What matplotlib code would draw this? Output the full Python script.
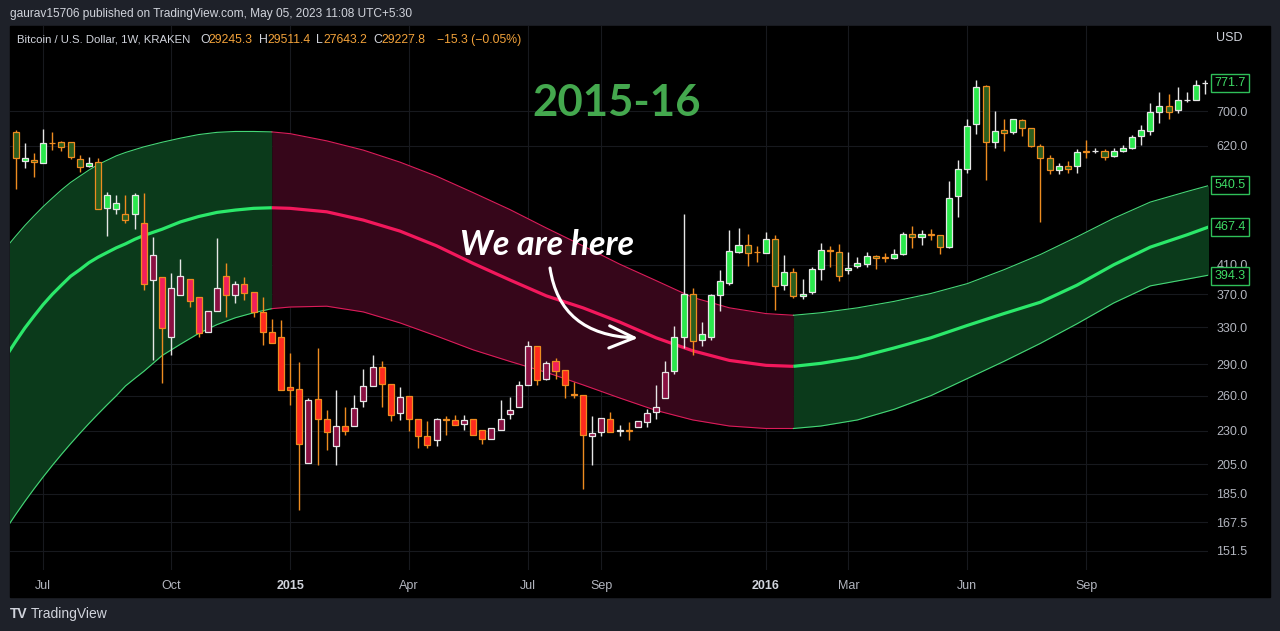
import matplotlib
matplotlib.use("Agg")
import matplotlib.pyplot as plt
import numpy as np
from matplotlib.patches import Rectangle, FancyArrowPatch
from matplotlib.path import Path
from matplotlib.ticker import FixedLocator, NullLocator, FuncFormatter
from matplotlib.transforms import blended_transform_factory

plt.rcParams['font.family'] = ['Liberation Sans', 'DejaVu Sans']

W, H = 1280, 631

# weekly BTC candles, bar 0 = first visible week (Jun 2014)
opens = [651, 588, 590, 585, 627, 628, 628, 592, 578, 587,
         499, 498, 489, 489, 474, 389, 393, 319, 369, 390,
         367, 325, 349, 394, 369, 384, 373, 348, 324, 319,
         268, 266, 206, 257, 240, 218, 234, 234, 255, 269,
         287, 271, 245, 260, 240, 226, 223, 240, 239, 236,
         240, 231, 224, 231, 244, 250, 270, 309, 276, 293,
         284, 262, 261, 226, 229, 240, 230, 231, 233, 237,
         246, 258, 283, 319, 370, 316, 319, 369, 385, 429,
         440, 429, 427, 448, 382, 400, 368, 373, 404, 431,
         429, 402, 409, 411, 423, 421, 420, 425, 457, 452,
         456, 455, 436, 520, 572, 668, 763, 628, 655, 651,
         678, 659, 620, 594, 570, 579, 578, 609, 609, 610,
         599, 610, 615, 642, 654, 697, 712, 702, 727, 727,
         771]
highs = [655, 626, 604, 657, 651, 631, 629, 601, 597, 594,
         529, 523, 523, 527, 527, 452, 393, 399, 418, 390,
         367, 349, 450, 413, 388, 393, 373, 367, 340, 338,
         302, 292, 258, 307, 247, 265, 250, 261, 285, 300,
         293, 271, 268, 260, 240, 238, 241, 242, 243, 243,
         240, 231, 232, 256, 259, 274, 314, 309, 293, 296,
         284, 273, 261, 242, 241, 246, 235, 237, 238, 248,
         270, 293, 331, 489, 378, 336, 371, 403, 463, 466,
         456, 437, 459, 455, 424, 405, 390, 407, 443, 437,
         441, 429, 421, 429, 424, 427, 433, 460, 469, 462,
         464, 455, 549, 590, 680, 780, 766, 701, 682, 682,
         682, 661, 624, 601, 585, 589, 613, 633, 616, 613,
         615, 622, 644, 667, 721, 748, 744, 760, 748, 780,
         780]
lows = [534, 574, 557, 585, 611, 610, 592, 566, 577, 498,
        454, 490, 475, 464, 376, 294, 272, 300, 369, 354,
        319, 325, 349, 342, 359, 363, 342, 310, 312, 265,
        252, 175, 206, 204, 215, 204, 227, 234, 250, 269,
        250, 238, 239, 230, 217, 217, 218, 227, 235, 231,
        227, 220, 224, 231, 240, 250, 270, 270, 275, 276,
        258, 258, 188, 204, 226, 229, 226, 223, 233, 233,
        240, 258, 280, 307, 300, 309, 316, 349, 382, 427,
        408, 414, 427, 350, 376, 365, 364, 371, 389, 407,
        387, 397, 405, 407, 404, 414, 418, 424, 434, 439,
        447, 426, 434, 485, 564, 646, 551, 615, 610, 646,
        642, 618, 476, 562, 562, 564, 565, 594, 604, 590,
        596, 607, 613, 622, 644, 671, 682, 696, 723, 727,
        744]
closes = [594, 594, 587, 627, 626, 617, 597, 577, 584, 498,
          523, 508, 479, 523, 384, 424, 329, 378, 394, 362,
          323, 349, 378, 369, 384, 372, 348, 324, 312, 265,
          265, 220, 256, 240, 229, 234, 230, 249, 269, 287,
          271, 243, 259, 240, 226, 219, 240, 239, 235, 239,
          227, 224, 232, 240, 247, 270, 309, 275, 291, 283,
          270, 261, 227, 228, 241, 229, 231, 230, 238, 245,
          250, 282, 319, 370, 314, 322, 369, 387, 430, 439,
          427, 428, 448, 381, 400, 368, 371, 404, 431, 430,
          394, 406, 412, 423, 420, 420, 425, 457, 451, 456,
          455, 436, 517, 572, 664, 760, 629, 653, 648, 680,
          661, 620, 594, 570, 579, 573, 608, 608, 610, 597,
          609, 615, 640, 655, 698, 712, 698, 727, 727, 766,
          771.7]

# cycle band (upper / middle / lower), sampled at bar indices
band_idx = [-1, 0, 1, 2, 3, 4, 5, 6, 7, 8, 9, 10, 11, 12, 13, 14, 16, 18, 20,
            22, 24, 26, 28, 30, 34, 38, 42, 46, 50, 54, 58, 62, 66, 70, 74, 78,
            82, 85, 88, 92, 96, 100, 104, 108, 112, 116, 120, 124, 128, 131]
band_upper = [436, 453, 470, 486, 502, 517, 532, 546, 558, 570, 581, 590, 599,
              606, 612, 618, 628, 637, 645, 650, 652, 652, 651,
              647, 631, 611, 586, 558, 527, 497, 466, 438, 411, 388, 366, 353,
              346, 344, 347, 353, 361, 371, 384, 403, 425, 452, 482, 510, 529, 543]
band_mid = [299, 314, 329, 343, 357, 370, 382, 394, 403, 413, 421, 428, 435,
            441, 448, 454, 464, 476, 485, 492, 496, 499, 500,
            499, 493, 479, 461, 438, 412, 389, 368, 353, 336, 318, 304, 294,
            289, 288, 291, 297, 307, 318, 332, 346, 360, 382, 410, 436, 455, 471]
band_lower = [164, 172, 180, 188, 196, 204, 212, 220, 228, 236, 244, 252, 260,
              269, 276, 283, 299, 311, 323, 333, 341, 347, 352,
              354, 355, 348, 335, 320, 305, 293, 282, 270, 258, 247, 239, 234,
              232, 232, 234, 239, 248, 260, 276, 293, 312, 334, 359, 381, 390, 397]
turns = [28, 85]

month_ticks = [3, 17, 30, 43, 56, 64, 82, 91, 104, 117]
month_labels = ['Jul', 'Oct', '2015', 'Apr', 'Jul', 'Sep', '2016', 'Mar', 'Jun', 'Sep']
price_ticks = [151.5, 167.5, 185, 205, 230, 260, 290, 330, 370, 410, 620, 700]
tag_values = [771.7, 540.5, 467.4, 394.3]


def fpos(x, y):
    return x / W, 1 - y / H


fig = plt.figure(figsize=(W / 100, H / 100), dpi=100, facecolor='#1e2129')
fig.patches.append(Rectangle(fpos(10, 597), 1260 / W, 571 / H,
                             transform=fig.transFigure, color='black', zorder=-5))

ax = fig.add_axes([10 / W, 1 - 570 / H, 1198 / W, 544 / H])
ax.set_zorder(1)
ax.set_facecolor('black')
for s in ax.spines.values():
    s.set_visible(False)
ax.set_yscale('log')
ax.set_ylim(141.8, 941)
ax.set_xlim(-0.62, 130.31)

# band
bi = np.array(band_idx, dtype=float)
up = np.array(band_upper, dtype=float)
md = np.array(band_mid, dtype=float)
lo = np.array(band_lower, dtype=float)
segs = [(bi.min(), turns[0], 'g'), (turns[0], turns[1], 'r'), (turns[1], bi.max(), 'g')]
for a, b, c in segs:
    m = (bi >= a) & (bi <= b)
    if c == 'g':
        fc, mc, ec = '#0b3a1b', '#2be86a', '#45d777'
    else:
        fc, mc, ec = '#36061a', '#f2185c', '#dc1c5a'
    ax.fill_between(bi[m], lo[m], up[m], color=fc, lw=0, zorder=1)
    ax.plot(bi[m], md[m], color=mc, lw=2.3, zorder=2, solid_capstyle='butt')
    ax.plot(bi[m], up[m], color=ec, lw=0.8, zorder=2)
    ax.plot(bi[m], lo[m], color=ec, lw=0.8, zorder=2)

# candles
o = np.array(opens, dtype=float)
h = np.array(highs, dtype=float)
l = np.array(lows, dtype=float)
c = np.array(closes, dtype=float)
idx = np.arange(len(o))
mid_at = np.interp(idx, bi, md)
low_at = np.interp(idx, bi, lo)
rising = c >= o
edges = np.where(rising, '#e6e6e6', '#ee8c20')
fills = []
for k in range(len(o)):
    if c[k] >= mid_at[k]:
        fills.append('#2ae84c' if rising[k] else '#2b5e1e')
    elif rising[k]:
        fills.append('#8a1042')
    else:
        fills.append('#f31f5a' if c[k] >= low_at[k] else '#ff2a1e')
ax.vlines(idx, l, h, colors=edges, lw=1.0, zorder=3)
ax.bar(idx, np.abs(c - o), bottom=np.minimum(o, c), width=0.66, color=fills,
       edgecolor=edges, linewidth=0.9, zorder=4)

# axes, grid
ax.xaxis.set_major_locator(FixedLocator(month_ticks))
ax.set_xticklabels(month_labels)
ax.yaxis.set_major_locator(FixedLocator(price_ticks))
ax.yaxis.set_minor_locator(NullLocator())
ax.yaxis.set_major_formatter(FuncFormatter(lambda v, p: f'{v:.1f}'))
ax.yaxis.tick_right()
ax.tick_params(axis='x', length=0, pad=7, labelcolor='#b2b5be', labelsize=9)
ax.tick_params(axis='y', length=0, pad=6, labelcolor='#b2b5be', labelsize=9)
for t in ax.get_xticklabels():
    if t.get_text() in ('2015', '2016'):
        t.set_fontweight('bold')
        t.set_color('#d1d4dc')
ax.grid(True, color='#17191e', lw=0.8)
ax.set_axisbelow(True)

# price tags on the scale
tr = blended_transform_factory(ax.transAxes, ax.transData)
for v in tag_values:
    ax.annotate(f'{v:.1f}', xy=(1, v), xycoords=tr, xytext=(4.5, 0),
                textcoords='offset points', ha='left', va='center',
                color='#3fdc66', fontsize=9, annotation_clip=False, zorder=10,
                bbox=dict(boxstyle='square,pad=0.25', fc='black', ec='#2fbf59', lw=1))

# texts
fig.text(*fpos(10, 14), 'gaurav15706 published on TradingView.com, May 05, 2023 11:08 UTC+5:30',
         color='#d1d4dc', fontsize=8.6, va='center')
fig.text(*fpos(17, 40), 'Bitcoin / U.S. Dollar, 1W, KRAKEN', color='#d1d4dc',
         fontsize=8.2, va='center', zorder=5)
orange = '#f2a23a'
legend_bits = [('O', 200, '#d1d4dc'), ('29245.3', 208, orange), ('H', 259.5, '#d1d4dc'),
               ('29511.4', 267.5, orange), ('L', 316, '#d1d4dc'), ('27643.2', 323, orange),
               ('C', 373, '#d1d4dc'), ('29227.8', 381, orange), ('\u221215.3 (\u22120.05%)', 437, orange)]
for txt, x, col in legend_bits:
    fig.text(*fpos(x, 40), txt, color=col, fontsize=8.8, va='center', zorder=5)
fig.text(*fpos(1229, 38), 'USD', color='#d1d4dc', fontsize=9, ha='center', va='center', zorder=5)
fig.text(*fpos(10, 614), 'TV', color='#d1d4dc', fontsize=10, fontweight='heavy',
         va='center')
fig.text(*fpos(31, 614), 'TradingView', color='#d1d4dc', fontsize=10, va='center')

fig.text(*fpos(617, 103), '2015-16', color='#44a84e', fontsize=31.5, fontweight='bold',
         family=['Lato', 'DejaVu Sans'], ha='center', va='center', zorder=5)
fig.text(*fpos(460, 245), 'We are here', color='white', fontsize=24.5, fontweight='bold',
         style='italic', family=['Lato', 'DejaVu Sans'], ha='left', va='center', zorder=5)

p0, p1, p2 = fpos(550, 268), fpos(560, 335), fpos(638, 338)
arrow = FancyArrowPatch(path=Path([p0, p1, p2], [Path.MOVETO, Path.CURVE3, Path.CURVE3]),
                        transform=fig.transFigure, arrowstyle='->,head_length=0.9,head_width=0.4',
                        mutation_scale=20, color='white', lw=2.2, zorder=5)
fig.add_artist(arrow)

fig.savefig('out.png', dpi=100, facecolor=fig.get_facecolor())
